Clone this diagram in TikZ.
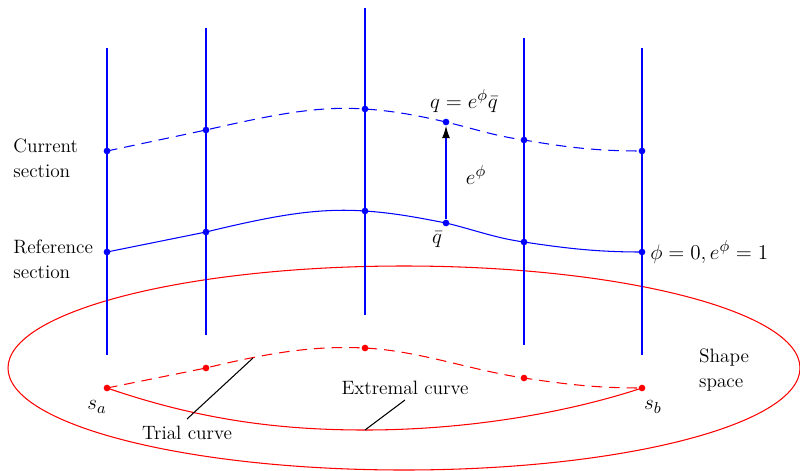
\documentclass[tikz,border=0pt]{standalone}
\usetikzlibrary{arrows.meta}

\begin{document}
\begin{tikzpicture}[x=0.02cm,y=-0.02cm,line width=0.6pt]
        \definecolor{secblue}{RGB}{0,0,255}
        \definecolor{shapered}{RGB}{255,0,0}
        \tikzset{dot/.style={circle,fill,inner sep=0pt,minimum size=3.8pt},
            fibre/.style={draw=secblue},
            txt/.style={font=\fontsize{11}{14}\selectfont},
            lab/.style={font=\fontsize{13}{15}\selectfont}}
        \useasboundingbox (0,0) rectangle (800,470);
        \draw[shapered] (404,368) ellipse [x radius=396, y radius=102];
        \path[fibre] (107,48)--(107,355);
        \path[fibre] (206,28)--(206,335);
        \path[fibre] (365,8)--(365,315);
        \path[fibre] (524,38)--(524,345);
        \path[fibre] (642,48)--(642,355);
        \node[dot,secblue] (c1) at (107,151) {};
        \node[dot,secblue] (c2) at (206,130) {};
        \node[dot,secblue] (c3) at (365,109) {};
        \node[dot,secblue] (cq) at (446,122) {};
        \node[dot,secblue] (c4) at (524,140) {};
        \node[dot,secblue] (c5) at (642,151) {};
        \node[dot,secblue] (r1) at (107,252) {};
        \node[dot,secblue] (r2) at (206,232) {};
        \node[dot,secblue] (r3) at (365,211) {};
        \node[dot,secblue] (rq) at (446,223) {};
        \node[dot,secblue] (r4) at (524,242) {};
        \node[dot,secblue] (r5) at (642,252) {};
        \draw[secblue,dash pattern=on 6pt off 4pt] (c1.center)--(c2.center) .. controls (280,113) and (320,106) .. (c3.center) .. controls (395,111) and (420,116) .. (cq.center) .. controls (475,129) and (495,136) .. (c4.center) .. controls (570,148) and (600,151) .. (c5.center);
        \draw[secblue] (r1.center)--(r2.center) .. controls (280,214) and (320,208) .. (r3.center) .. controls (395,213) and (420,218) .. (rq.center) .. controls (475,230) and (495,238) .. (r4.center) .. controls (570,249) and (600,252) .. (r5.center);
        \draw[secblue,-{Latex[black,length=7pt,width=4.5pt]}] (rq)--(cq);
        \node[lab] (ephi) at (476,175) {$e^{\phi}$};
        \node[lab] (qbar) at (437,240) {$\bar q$};
        \node[lab] (qlab) at (464,101) {$q=e^{\phi}\bar q$};
        \node[lab,anchor=west] (zero) at (644,252) {$\phi=0,e^{\phi}=1$};
        \node[txt,anchor=west,align=left] (cur) at (7,158) {Current\\section};
        \node[txt,anchor=west,align=left] (ref) at (7,259) {Reference\\section};
        \node[txt,align=left] (shape) at (724,370) {Shape\\space};
        \node[dot,shapered] (sa) at (107,388) {};
        \node[dot,shapered] (p2) at (206,368) {};
        \node[dot,shapered] (p3) at (365,348) {};
        \node[dot,shapered] (p4) at (524,378) {};
        \node[dot,shapered] (sb) at (642,388) {};
        \draw[shapered,dash pattern=on 6pt off 4pt] (sa.center)--(p2.center) .. controls (280,350) and (320,346) .. (p3.center) .. controls (420,351) and (470,370) .. (p4.center) .. controls (570,385) and (600,388) .. (sb.center);
        \draw[shapered] (sa.center) .. controls (200,420) and (280,430) .. (365,430) .. controls (460,430) and (560,415) .. (sb.center);
        \node[lab] (salab) at (97,407) {$s_a$};
        \node[lab] (sblab) at (653,407) {$s_b$};
        \node[txt] (trial) at (187,433) {Trial curve};
        \node[txt] (extr) at (405,388) {Extremal curve};
        \coordinate (tp) at (253,358);
        \coordinate (ep) at (365,430);
        \draw (187,419)--(tp);
        \draw (405,400)--(ep);
    \end{tikzpicture}
\end{document}
